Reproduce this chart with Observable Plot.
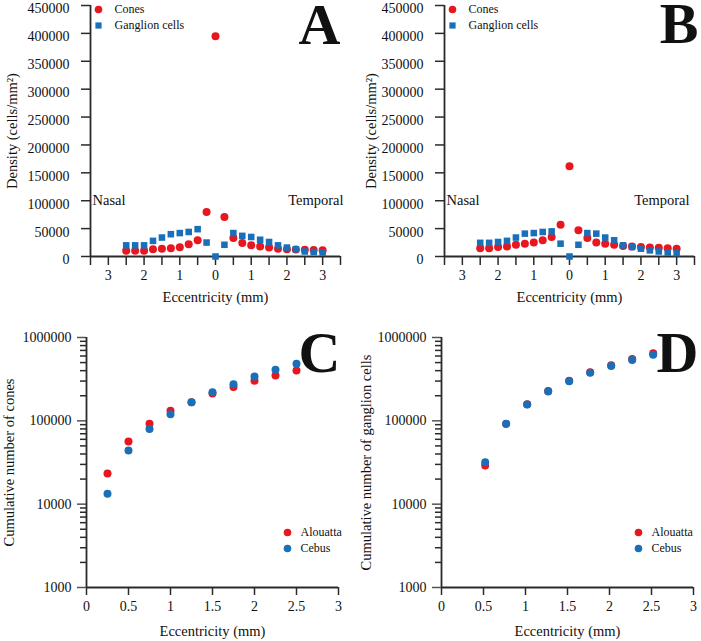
<!DOCTYPE html>
<html><head><meta charset="utf-8">
<script src="https://cdn.jsdelivr.net/npm/d3@7"></script>
<script src="https://cdn.jsdelivr.net/npm/@observablehq/plot@0.6"></script>
<style>
body{margin:0;background:#fff;}
#wrap{position:relative;width:701px;height:641px;background:#fff;overflow:hidden;}
#wrap > div{position:absolute;}
#wrap svg{overflow:visible;font-family:"Liberation Serif","Times New Roman",Times,serif !important;}
#wrap svg text, #wrap svg tspan{font-family:"Liberation Serif","Times New Roman",Times,serif !important;}
</style></head><body>
<div id="wrap">
  <div id="pA" style="left:0;top:0"></div>
  <div id="pB" style="left:350px;top:0"></div>
  <div id="pC" style="left:0;top:310px"></div>
  <div id="pD" style="left:350px;top:310px"></div>
</div>
<script>
// ---------- data ----------
// signed eccentricity (mm): nasal < 0, temporal > 0
const eccentricityAB = [-2.5,-2.25,-2,-1.75,-1.5,-1.25,-1,-0.75,-0.5,-0.25,0,0.25,0.5,0.75,1,1.25,1.5,1.75,2,2.25,2.5,2.75,3];
const conesA    = [10500,10500,10500,13000,14000,15000,16500,22000,29000,80000,395000,71000,33000,24000,20000,18000,16000,14000,13000,12500,12000,11500,11000];
const ganglionA = [20000,20000,20000,28000,34000,40000,42000,44000,49000,25000,0,21000,42000,37000,35000,30000,26000,20000,16000,13000,9000,8000,7000];
const conesB    = [15000,15000,17000,18000,21000,23000,25000,29000,35000,57000,162000,47000,33000,25000,23000,21000,19000,18000,17000,16000,15500,15000,14000];
const ganglionB = [24500,24500,26000,28000,34000,41000,42000,44000,45000,23000,0,21000,42000,41000,34000,29000,20000,17000,14000,11000,9000,7000,6000];

const eccentricityC = [0.25,0.5,0.75,1,1.25,1.5,1.75,2,2.25,2.5];
const alouattaC = [23300,56500,92000,132000,167000,213000,254000,302000,350000,402000];
const cebusC    = [13300,44000,80000,120000,167000,221000,275000,340000,409000,483000];

const eccentricityD = [0.52,0.77,1.02,1.27,1.52,1.77,2.02,2.27,2.52];
const alouattaD = [29100,91800,158000,228000,303000,384000,466000,551000,649000];
const cebusD    = [31900,92000,157000,225000,298000,378000,455000,537000,623000];

const densityXDomain = [-3.5, 3.5];
const densityYDomain = [0, 450000];
const densityXTicks = d3.range(-3.5, 3.51, 0.5);
const densityYTicks = d3.range(0, 450001, 50000);
const cumXTicks = [0,0.5,1,1.5,2,2.5,3];
const cumXTickLabels = ["0","0.5","1","1.5","2","2.5","3"];
const cumYDomain = [1000, 1000000];
const cumYMajor = [1000,10000,100000,1000000];
const cumYMinor = [2,3,4,5,6,7,8,9].flatMap(k => [1000,10000,100000].map(p => k*p));

const legendAB = ["Cones", "Ganglion cells"];
const legendCD = ["Alouatta", "Cebus"];
const sideLabels = ["Nasal", "Temporal"];
const sideLabelLevel = 100000;
const xTitle = "Eccentricity (mm)";

// ---------- style ----------
const FONT = '"Liberation Serif","Times New Roman",Times,serif';
const RED = "#e8161e", BLUE = "#1a70b8", AXIS = "#2a2a2a";
const baseStyle = {fontFamily: FONT, fontSize: "14px", color: "#111", background: "white", overflow: "visible"};

function densityPanel(o) {
  const rowsC = eccentricityAB.map((e, i) => ({e, v: o.cones[i]}));
  const rowsG = eccentricityAB.map((e, i) => ({e, v: o.ganglion[i]}));
  return Plot.plot({
    width: o.width, height: 310,
    marginLeft: o.marginLeft, marginRight: o.marginRight, marginTop: 5, marginBottom: 54,
    style: baseStyle,
    x: {domain: densityXDomain},
    y: {domain: densityYDomain},
    marks: [
      Plot.axisX({ticks: densityXTicks, tickFormat: d => (Number.isInteger(d) && Math.abs(d) <= 3) ? String(Math.abs(d)) : "",
        tickSize: 9, tickPadding: 5, label: null, stroke: AXIS, strokeWidth: 1.5}),
      Plot.axisY({ticks: densityYTicks, tickSize: 9, fill: "none", label: null, stroke: AXIS, strokeWidth: 1.5}),
      Plot.axisY({ticks: densityYTicks, tickFormat: d => String(d), tickSize: 0, tickPadding: 21, dy: 3.5, label: null}),
      Plot.ruleY([densityYDomain[0]], {stroke: AXIS, strokeWidth: 1.8}),
      Plot.ruleX([densityXDomain[0]], {stroke: AXIS, strokeWidth: 1.8}),
      Plot.text([sideLabels[0]], {x: densityXDomain[0], y: sideLabelLevel, textAnchor: "start", dx: o.nasalDx, fontSize: 14.5}),
      Plot.text([sideLabels[1]], {x: densityXDomain[1], y: sideLabelLevel, textAnchor: "end", dx: o.temporalDx, fontSize: 14.5}),
      Plot.dot(rowsC, {x: "e", y: "v", r: 4, fill: RED, symbol: "circle"}),
      Plot.dot(rowsG, {x: "e", y: "v", r: 3.7, fill: BLUE, symbol: "square"}),
      Plot.dot([0], {frameAnchor: "top-left", dx: o.legendDx, dy: 4, r: 3.8, fill: RED, symbol: "circle"}),
      Plot.dot([0], {frameAnchor: "top-left", dx: o.legendDx, dy: 20, r: 3.5, fill: BLUE, symbol: "square"}),
      Plot.text([legendAB[0]], {frameAnchor: "top-left", dx: o.legendDx + 16, dy: 4, textAnchor: "start", lineAnchor: "middle", fontSize: 12}),
      Plot.text([legendAB[1]], {frameAnchor: "top-left", dx: o.legendDx + 16, dy: 20, textAnchor: "start", lineAnchor: "middle", fontSize: 12}),
      Plot.text([o.yTitle], {frameAnchor: "left", dx: o.yTitleDx, rotate: -90, textAnchor: "middle", lineAnchor: "middle", fontSize: 14.5}),
      Plot.text([xTitle], {frameAnchor: "bottom", dy: 45.5, textAnchor: "middle", fontSize: 14.5}),
      Plot.text([o.letter], {frameAnchor: "top-right", textAnchor: "end", lineAnchor: "top", dx: o.letterDx, dy: o.letterDy, fontSize: 58, fontWeight: "bold"})
    ]
  });
}

function cumulativePanel(o) {
  const rowsA = o.ecc.map((e, i) => ({e, v: o.alouatta[i]}));
  const rowsC = o.ecc.map((e, i) => ({e, v: o.cebus[i]}));
  return Plot.plot({
    width: o.width, height: 331,
    marginLeft: o.marginLeft, marginRight: o.marginRight, marginTop: 27, marginBottom: 54,
    style: baseStyle,
    x: {domain: [0, 3]},
    y: {type: "log", domain: cumYDomain},
    marks: [
      Plot.axisX({ticks: cumXTicks, tickFormat: d => cumXTickLabels[cumXTicks.indexOf(d)], tickSize: 8, tickPadding: 6, label: null, stroke: AXIS, strokeWidth: 1.5}),
      Plot.axisY({ticks: cumYMajor, tickFormat: d => String(d), tickSize: 9, tickPadding: 6, label: null, stroke: "#555", strokeWidth: 1.5}),
      Plot.axisY({ticks: cumYMinor, tickSize: 6, fill: "none", label: null, stroke: AXIS, strokeWidth: 1.5}),
      Plot.ruleY([cumYDomain[0]], {stroke: AXIS, strokeWidth: 1.8}),
      Plot.ruleX([0], {stroke: AXIS, strokeWidth: 1.8}),
      Plot.dot(rowsA, {x: "e", y: "v", r: 4, fill: RED}),
      Plot.dot(rowsC, {x: "e", y: "v", r: 4, fill: BLUE}),
      Plot.dot([0], {frameAnchor: "top-left", dx: o.legendDx, dy: 195, r: 3.8, fill: RED}),
      Plot.dot([0], {frameAnchor: "top-left", dx: o.legendDx, dy: 211, r: 3.8, fill: BLUE}),
      Plot.text([legendCD[0]], {frameAnchor: "top-left", dx: o.legendDx + 13, dy: 195, textAnchor: "start", lineAnchor: "middle", fontSize: 12}),
      Plot.text([legendCD[1]], {frameAnchor: "top-left", dx: o.legendDx + 13, dy: 211, textAnchor: "start", lineAnchor: "middle", fontSize: 12}),
      Plot.text([o.yTitle], {frameAnchor: "left", dx: o.yTitleDx, rotate: -90, textAnchor: "middle", lineAnchor: "middle", fontSize: 14.5}),
      Plot.text([xTitle], {frameAnchor: "bottom", dy: 48, textAnchor: "middle", fontSize: 14.5}),
      Plot.text([o.letter], {frameAnchor: "top-right", textAnchor: "end", lineAnchor: "top", dx: o.letterDx, dy: o.letterDy, fontSize: 58, fontWeight: "bold"})
    ]
  });
}

document.getElementById("pA").append(densityPanel({
  cones: conesA, ganglion: ganglionA, letter: "A", yTitle: "Density (cells/mm²)",
  width: 350, marginLeft: 90, marginRight: 10, yTitleDx: -78, letterDx: 0, letterDy: -3,
  legendDx: 8, nasalDx: 2, temporalDx: 3
}));
document.getElementById("pB").append(densityPanel({
  cones: conesB, ganglion: ganglionB, letter: "B", yTitle: "Density (cells/mm²)",
  width: 351, marginLeft: 94, marginRight: 7, yTitleDx: -73, letterDx: 4, letterDy: -4,
  legendDx: 8, nasalDx: 2, temporalDx: -5
}));
document.getElementById("pC").append(cumulativePanel({
  ecc: eccentricityC, alouatta: alouattaC, cebus: cebusC, letter: "C", yTitle: "Cumulative number of cones",
  width: 350, marginLeft: 86, marginRight: 12, yTitleDx: -77, letterDx: 2, letterDy: -7, legendDx: 201
}));
document.getElementById("pD").append(cumulativePanel({
  ecc: eccentricityD, alouatta: alouattaD, cebus: cebusD, letter: "D", yTitle: "Cumulative number of ganglion cells",
  width: 351, marginLeft: 91, marginRight: 8, yTitleDx: -75, letterDx: 5, letterDy: -7, legendDx: 197
}));
</script>
</body></html>
